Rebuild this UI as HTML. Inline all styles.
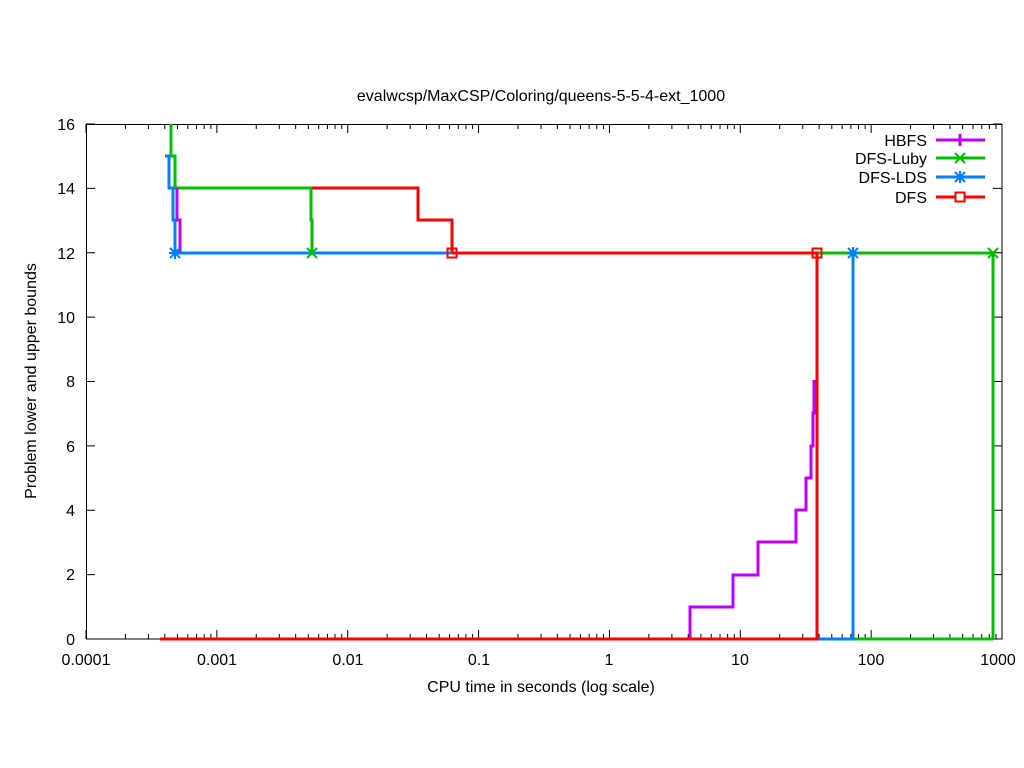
<!DOCTYPE html>
<html><head><style>body{margin:0;background:#fff}svg{display:block}text{font-family:"Liberation Sans",sans-serif;font-size:16px;fill:#000}</style></head>
<body>
<svg id="s" width="1024" height="768" xmlns="http://www.w3.org/2000/svg">
<rect width="1024" height="768" fill="#fff"/>
<g id="ticks" stroke="#000" stroke-width="1"></g>
<rect x="86.5" y="124.5" width="915.5" height="514.5" fill="none" stroke="#000"/>
<text x="541" y="101" text-anchor="middle">evalwcsp/MaxCSP/Coloring/queens-5-5-4-ext_1000</text>
<text x="541" y="692" text-anchor="middle">CPU time in seconds (log scale)</text>
<text transform="translate(36,381) rotate(-90)" text-anchor="middle">Problem lower and upper bounds</text>
<g text-anchor="end">
<text x="75" y="130">16</text><text x="75" y="194">14</text><text x="75" y="259">12</text><text x="75" y="323">10</text><text x="75" y="387">8</text><text x="75" y="452">6</text><text x="75" y="516">4</text><text x="75" y="580">2</text><text x="75" y="645">0</text>
</g>
<g text-anchor="middle">
<text x="86" y="665">0.0001</text><text x="217" y="665">0.001</text><text x="348" y="665">0.01</text><text x="479" y="665">0.1</text><text x="609" y="665">1</text><text x="740" y="665">10</text><text x="871" y="665">100</text><text x="998" y="665">1000</text>
</g>
<g fill="none" stroke-width="3">
<polyline stroke="#00c000" points="853,639 993,639"/>
<polyline stroke="#0080ff" points="817,639 853,639"/>
<polyline stroke="#00c000" points="171,124 171,156 175,156 175,188 311,188 311,220 312,220 312,253 993,253 993,639"/>
<polyline stroke="#c000ff" points="177,188 177,220 180,220 180,253"/>
<polyline stroke="#c000ff" points="690,639 690,607 733,607 733,575 758,575 758,542 796,542 796,510 806,510 806,478 811,478 811,446 813,446 813,413 814,413 814,380"/>
<polyline stroke="#ff0000" points="312,188 418,188 418,220 452,220 452,253 817,253 817,639 160,639"/>
<polyline stroke="#0080ff" points="165,156 169,156 169,188 173,188 173,220 175,220 175,253 452,253"/>
<polyline stroke="#0080ff" points="853,253 853,639"/>
<polyline stroke="#00c000" points="853,253 993,253"/>
</g>
<g stroke-width="2" fill="none">
<path stroke="#00c000" d="M307,248l10,10M317,248l-10,10M988,248l10,10M998,248l-10,10"/>
<path stroke="#0080ff" d="M170,248l10,10M180,248l-10,10M175,247v12M169,253h12M848,248l10,10M858,248l-10,10M853,247v12M847,253h12"/>
<rect stroke="#ff0000" x="447.5" y="248.5" width="9" height="9"/>
<rect stroke="#ff0000" x="812.5" y="248.5" width="9" height="9"/>
</g>
<g text-anchor="end">
<text x="927" y="146">HBFS</text><text x="927" y="164">DFS-Luby</text><text x="927" y="183">DFS-LDS</text><text x="927" y="203">DFS</text>
</g>
<g stroke-width="3" fill="none">
<path stroke="#c000ff" d="M936,140h49M960,134v12"/>
<path stroke="#00c000" d="M936,158h49"/><path stroke="#00c000" stroke-width="2" d="M955,153l10,10M965,153l-10,10"/>
<path stroke="#0080ff" d="M936,177h49"/><path stroke="#0080ff" stroke-width="2" d="M955,172l10,10M965,172l-10,10M960,171v12M954,177h12"/>
<path stroke="#ff0000" d="M936,197h49"/><rect stroke="#ff0000" stroke-width="2" x="955.5" y="192.5" width="9" height="9" fill="#fff"/>
</g>
</svg>
<script>
var g=document.getElementById('ticks'),d='';
for(var i=0;i<=7;i++){var x=86+130.86*i;d+='M'+x+',639v-9M'+x+',124v9';
 if(i<7)for(var k=2;k<10;k++){var xm=x+130.86*Math.log10(k);d+='M'+xm+',639v-5M'+xm+',124v5';}}
for(var j=0;j<=8;j++){var y=639-64.375*j;d+='M86,'+y+'h9M1002,'+y+'h-9';}
var p=document.createElementNS('http://www.w3.org/2000/svg','path');p.setAttribute('d',d);g.appendChild(p);
</script>
</body></html>
